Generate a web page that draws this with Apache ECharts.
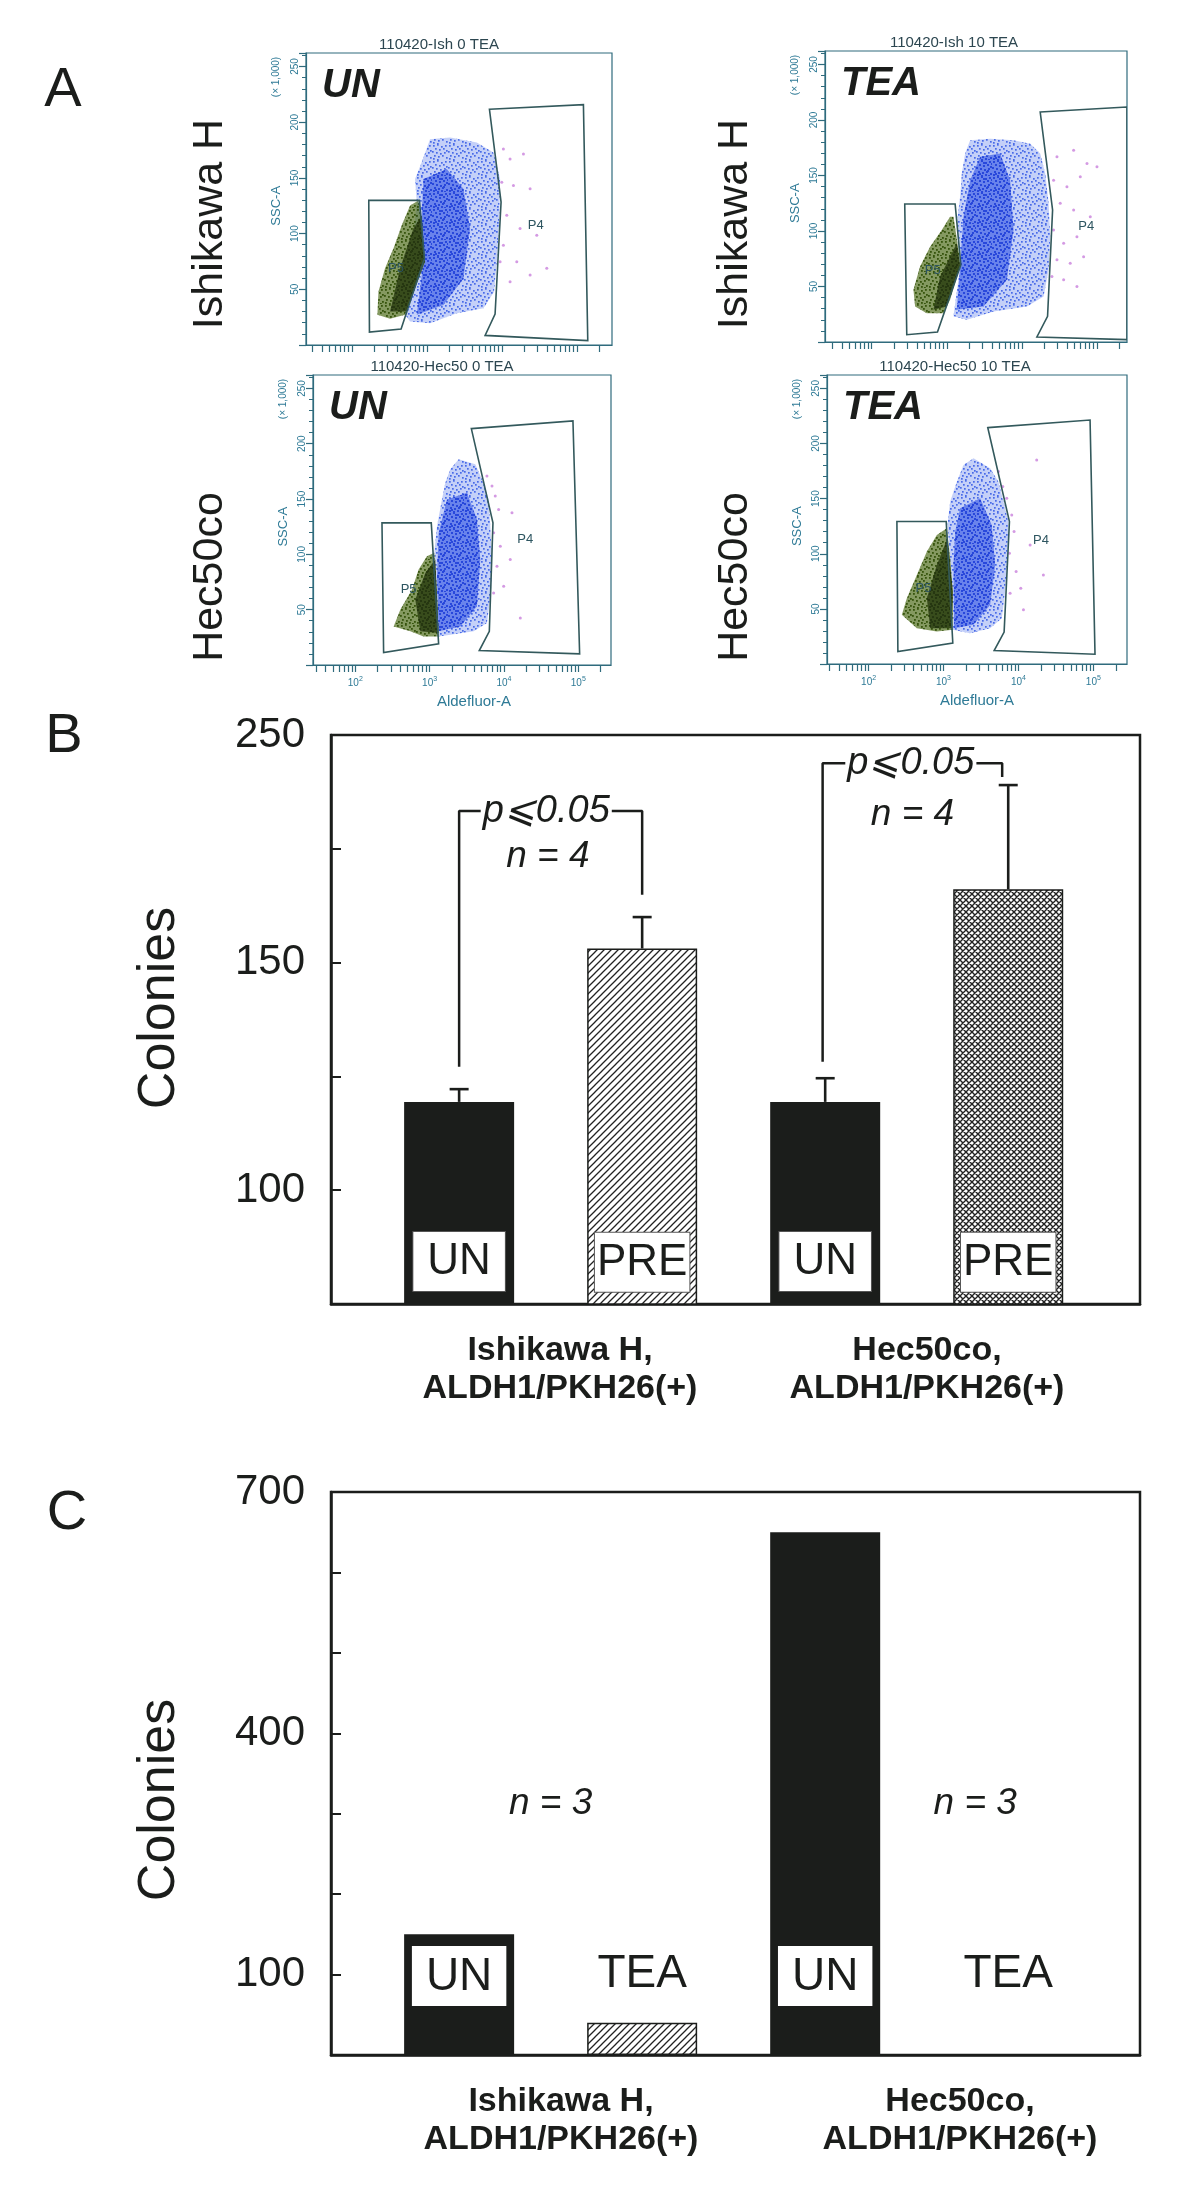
<!DOCTYPE html>
<html lang="en">
<head>
<meta charset="utf-8"/>
<title>ALDH1 colonies</title>
<script src="https://cdn.jsdelivr.net/npm/echarts@6.0.0/dist/echarts.min.js"></script>
<style>
  html, body { margin: 0; padding: 0; background: #fff; }
  #chart { width: 1200px; height: 2206px; }
</style>
</head>
<body>
<div id="chart"></div>
<script type="text/javascript">
  // ---------- panel A : flow cytometry (x = log10 Aldefluor-A, y = SSC-A x1000) ----------
  var facsTitles = ['110420-Ish 0 TEA', '110420-Ish 10 TEA', '110420-Hec50 0 TEA', '110420-Hec50 10 TEA'];
  var facsTags = ['UN', 'TEA', 'UN', 'TEA'];
  var xRangeA = [[1.39, 5.47], [1.378, 5.4], [1.431, 5.44], [1.445, 5.449]];
  var xLabelDecades = [2, 3, 4, 5];
  var yLabelsA = [50, 100, 150, 200, 250];

  var gateP5 = [
    [[2.227, 129.8], [2.902, 129.8], [2.969, 77.7], [2.658, 14.3], [2.236, 11.6]],
    [[2.44, 124.3], [3.111, 124.3], [3.187, 69.5], [2.876, 9.0], [2.467, 6.6]],
    [[2.359, 128.5], [3.022, 128.5], [3.121, 19.2], [2.381, 11.3]],
    [[2.378, 129.2], [3.036, 129.2], [3.124, 18.9], [2.391, 11.3]]
  ];
  var gateP4 = [
    [[3.836, 211.6], [5.089, 215.8], [5.147, 3.9], [3.778, 8.6], [3.911, 27.7], [3.991, 128.3]],
    [[4.244, 207.2], [5.4, 211.7], [5.4, 2.1], [4.2, 4.5], [4.342, 23.1], [4.409, 118.9]],
    [[3.561, 213.7], [4.928, 220.7], [5.018, 10.1], [3.668, 13.1], [3.803, 30.4], [3.852, 128.5]],
    [[3.591, 214.4], [4.956, 221.3], [5.022, 8.9], [3.676, 12.2], [3.809, 28.9], [3.88, 129.2]]
  ];
  var labelP4 = [[4.453, 107.4], [4.858, 103.9], [4.287, 113.4], [4.302, 112.5]];
  var labelP5 = [[2.591, 68.8], [2.813, 64.4], [2.717, 68.1], [2.733, 68.7]];

  var blueOuter = [
    [[3.044, 184.8], [3.311, 186.3], [3.667, 181.8], [3.889, 172.9], [3.978, 149.1], [3.969, 116.4], [3.942, 80.7], [3.898, 47.9], [3.756, 33.0], [3.4, 28.6], [3.044, 19.6], [2.778, 21.1], [2.711, 27.1], [2.867, 128.3], [2.844, 149.1], [2.933, 164.0]],
    [[3.311, 181.7], [3.578, 183.2], [3.889, 181.7], [4.111, 178.7], [4.244, 169.8], [4.311, 151.8], [4.356, 124.9], [4.378, 94.9], [4.356, 65.0], [4.289, 41.0], [4.067, 32.0], [3.622, 27.5], [3.267, 20.1], [3.089, 23.1], [3.178, 68.0], [3.133, 106.9], [3.178, 130.8], [3.2, 151.8], [3.244, 169.8]],
    [[3.278, 176.9], [3.39, 186.0], [3.614, 181.4], [3.704, 167.8], [3.794, 149.7], [3.816, 125.5], [3.839, 95.3], [3.825, 65.1], [3.771, 37.9], [3.592, 30.4], [3.278, 27.3], [3.121, 25.8], [3.099, 65.1], [3.063, 101.4], [3.099, 125.5], [3.166, 149.7], [3.211, 164.8]],
    [[3.267, 180.5], [3.4, 186.6], [3.622, 177.5], [3.733, 165.4], [3.8, 147.3], [3.867, 129.2], [3.853, 95.9], [3.822, 65.7], [3.778, 41.5], [3.622, 32.5], [3.356, 27.9], [3.124, 31.0], [3.124, 65.7], [3.089, 95.9], [3.053, 126.1], [3.089, 147.3], [3.178, 165.4]]
  ];
  var blueCore = [
    [[2.956, 149.1], [3.267, 158.0], [3.489, 140.2], [3.578, 104.5], [3.489, 59.8], [3.222, 36.0], [2.867, 27.1], [2.956, 74.7], [2.933, 116.4]],
    [[3.444, 166.8], [3.711, 169.8], [3.844, 145.8], [3.889, 100.9], [3.8, 56.0], [3.489, 32.0], [3.133, 29.0], [3.178, 68.0], [3.222, 112.9], [3.311, 145.8]],
    [[3.233, 149.7], [3.502, 155.7], [3.637, 131.6], [3.682, 95.3], [3.637, 53.0], [3.413, 34.9], [3.121, 30.4], [3.099, 80.2], [3.121, 119.5]],
    [[3.222, 141.2], [3.489, 150.3], [3.644, 126.1], [3.689, 89.9], [3.622, 53.6], [3.4, 35.5], [3.142, 32.5], [3.133, 89.9], [3.156, 120.1]]
  ];
  var greenOuter = [
    [[2.889, 129.8], [2.956, 92.6], [2.978, 74.7], [2.711, 27.1], [2.511, 23.5], [2.342, 27.1], [2.356, 47.9], [2.444, 68.8], [2.556, 86.6], [2.667, 107.4], [2.778, 125.3]],
    [[3.089, 112.9], [3.169, 76.9], [3.178, 68.0], [3.044, 38.0], [2.956, 26.0], [2.733, 26.0], [2.578, 32.0], [2.556, 47.0], [2.644, 68.0], [2.778, 85.9], [2.933, 100.9], [3.044, 112.9]],
    [[3.063, 101.4], [3.099, 65.1], [3.121, 25.8], [2.919, 25.8], [2.74, 30.4], [2.516, 34.9], [2.605, 50.0], [2.762, 68.1], [2.852, 86.3], [2.964, 98.3]],
    [[3.044, 123.1], [3.089, 95.9], [3.124, 65.7], [3.124, 31.0], [2.911, 29.5], [2.644, 32.5], [2.444, 44.6], [2.511, 59.7], [2.644, 80.8], [2.778, 102.0], [2.911, 117.1]]
  ];
  var greenCore = [
    [[2.933, 116.4], [2.969, 74.7], [2.733, 30.1], [2.511, 30.1], [2.644, 68.8], [2.822, 104.5]],
    [[3.133, 88.9], [3.178, 68.0], [3.0, 32.0], [2.822, 29.0], [2.911, 59.0], [3.044, 76.9]],
    [[3.076, 95.3], [3.121, 28.9], [2.874, 30.4], [2.807, 59.1], [2.942, 83.2]],
    [[3.053, 114.0], [3.124, 65.7], [3.111, 32.5], [2.822, 32.5], [2.778, 59.7], [2.911, 89.9]]
  ];
  var pinkDots = [
    [[4.022, 175.9], [4.111, 167.0], [4.289, 171.4], [4.0, 146.1], [4.156, 143.2], [4.378, 140.2], [4.067, 116.4], [4.244, 104.5], [4.467, 98.5], [4.022, 89.6], [4.2, 74.7], [4.378, 62.8], [4.6, 68.8], [3.978, 74.7], [4.111, 56.8]],
    [[4.467, 166.8], [4.689, 172.8], [4.867, 160.8], [5.0, 157.8], [4.422, 145.8], [4.6, 139.8], [4.778, 148.8], [4.511, 124.9], [4.689, 118.9], [4.911, 112.9], [4.422, 100.9], [4.556, 88.9], [4.733, 94.9], [4.467, 74.0], [4.644, 71.0], [4.822, 76.9], [4.556, 56.0], [4.733, 50.0], [4.4, 59.0]],
    [[3.771, 170.8], [3.839, 161.8], [3.883, 152.7], [3.928, 140.6], [3.861, 119.5], [3.951, 107.4], [3.906, 89.3], [3.996, 71.1], [3.861, 65.1], [4.108, 137.6], [4.22, 42.4], [4.085, 95.3]],
    [[3.733, 174.5], [3.791, 160.9], [3.844, 150.3], [3.911, 135.2], [3.942, 120.1], [3.88, 100.5], [3.969, 83.8], [3.889, 64.2], [4.031, 68.7], [4.156, 108.0], [4.244, 185.0], [4.333, 80.8], [4.067, 49.1]]
  ];

  // ---------- panel B ----------
  var barPos = [1, 2, 3, 4];
  var barNamesB = ['UN', 'PRE', 'UN', 'PRE'];
  var coloniesB = [119.4, 153.1, 119.4, 166.1];
  var errTopB = [122.2, 160.0, 124.6, 189.0];
  var yTicksB = [100, 150, 200];
  var yTickTextB = ['100', '150', '250'];
  var bracketIsh = [[1.0, 127.1], [1.0, 183.3], [2.0, 183.3], [2.0, 164.9]];
  var bracketHec = [[2.986, 128.2], [2.986, 193.8], [3.967, 193.8], [3.967, 190.8]];
  var pTextB = [[1.476, 183.3], [3.468, 193.8]];
  var nTextB = [[1.485, 173.3], [3.477, 182.4]];

  // ---------- panel C ----------
  var barNamesC = ['UN', 'TEA', 'UN', 'TEA'];
  var coloniesC = [150, 40, 650, 0];
  var yTicksC = [100, 400, 700];
  var teaTextC = [[2, 100], [4, 100]];
  var nTextC = [[1.5, 312], [3.82, 312]];

  var groupNames = ['Ishikawa H,\nALDH1/PKH26(+)', 'Hec50co,\nALDH1/PKH26(+)'];

  // ---------- styles ----------
  var FONT = 'Liberation Sans, Arial, Helvetica, sans-serif';
  var INK = '#1b1d1b';
  var FACS_AXIS = '#2f6b7d';
  var FACS_TEXT = '#2e7a96';
  var GATE = '#33595c';

  function hatch(cross) {
    var s = cross ? 6 : 7;
    var c = document.createElement('canvas');
    c.width = s; c.height = s;
    var g = c.getContext('2d');
    g.fillStyle = '#fff';
    g.fillRect(0, 0, s, s);
    g.strokeStyle = '#222';
    g.lineWidth = cross ? 1.4 : 1.3;
    g.beginPath();
    g.moveTo(-1, s + 1); g.lineTo(s + 1, -1);
    g.moveTo(-1, 1); g.lineTo(1, -1);
    g.moveTo(s - 1, s + 1); g.lineTo(s + 1, s - 1);
    if (cross) {
      g.moveTo(-1, -1); g.lineTo(s + 1, s + 1);
      g.moveTo(s - 1, -1); g.lineTo(s + 1, 1);
      g.moveTo(-1, s - 1); g.lineTo(1, s + 1);
    }
    g.stroke();
    return { image: c, repeat: 'repeat' };
  }
  var HATCH = hatch(false);
  var CROSS = hatch(true);

  // speckle tiles for the cytometry clouds (fixed dot layout)
  var speckle = [[1, 1], [5, 0], [9, 2], [13, 1], [3, 4], [7, 5], [11, 4], [14, 6], [0, 7], [4, 8], [8, 9], [12, 8],
    [2, 11], [6, 12], [10, 11], [14, 13], [1, 14], [5, 15], [9, 14], [12, 15], [7, 2], [3, 13], [11, 10], [15, 3]];
  function dots(base, dot, count, size) {
    var c = document.createElement('canvas');
    c.width = 16; c.height = 16;
    var g = c.getContext('2d');
    if (base) { g.fillStyle = base; g.fillRect(0, 0, 16, 16); }
    g.fillStyle = dot;
    speckle.slice(0, count).forEach(function (p) { g.fillRect(p[0], p[1], size, size); });
    return { image: c, repeat: 'repeat' };
  }
  var BLUE_OUT = dots('rgba(125,150,240,0.45)', 'rgba(60,95,230,0.9)', 18, 1.7);
  var BLUE_CORE = dots('rgba(75,105,232,0.75)', 'rgba(38,70,218,0.95)', 24, 2);
  var GREEN_OUT = dots('rgba(80,110,28,0.7)', 'rgba(55,85,14,1)', 20, 1.8);
  var GREEN_CORE = dots('rgba(52,72,24,0.95)', 'rgba(38,55,17,1)', 24, 2);

  var facsGrids = [
    { left: 306, top: 53, width: 306, height: 292 },
    { left: 825, top: 51, width: 302, height: 291 },
    { left: 313, top: 375, width: 298, height: 290 },
    { left: 827, top: 375, width: 300, height: 289 }
  ];

  var grids = [], xAxes = [], yAxes = [], series = [], graphics = [];

  facsGrids.forEach(function (g, i) {
    grids.push({ left: g.left, top: g.top, width: g.width, height: g.height, show: true,
      borderColor: FACS_AXIS, borderWidth: 1.2, backgroundColor: 'transparent' });

    var ticks = [];
    for (var d = 1; d <= 5; d++) {
      for (var k = 1; k <= 9; k++) {
        var t = d + Math.log10(k);
        if (t > xRangeA[i][0] && t < xRangeA[i][1]) ticks.push(t);
      }
    }
    xAxes.push({
      gridIndex: i, type: 'value', min: xRangeA[i][0], max: xRangeA[i][1],
      axisLine: { show: true, lineStyle: { color: FACS_AXIS, width: 1.2 } },
      axisTick: { show: true, customValues: ticks, length: 7, lineStyle: { color: FACS_AXIS, width: 1.2 } },
      axisLabel: {
        show: i >= 2, customValues: xLabelDecades, margin: 11,
        formatter: function (v) { return '{b|10}{s|' + v + '}'; },
        rich: {
          b: { fontSize: 10, fontFamily: FONT, color: FACS_TEXT },
          s: { fontSize: 7, fontFamily: FONT, color: FACS_TEXT, padding: [0, 0, 7, 0] }
        }
      },
      splitLine: { show: false }
    });
    yAxes.push({
      gridIndex: i, type: 'value', min: 0, max: 262.144, interval: 50,
      axisLine: { show: true, lineStyle: { color: FACS_AXIS, width: 1.2 } },
      axisTick: { show: true, length: 7, lineStyle: { color: FACS_AXIS, width: 1.2 } },
      minorTick: { show: true, splitNumber: 5, length: 4, lineStyle: { color: FACS_AXIS, width: 1 } },
      axisLabel: { customValues: yLabelsA, rotate: 90, fontSize: 10, color: FACS_TEXT, fontFamily: FONT, margin: 6 },
      splitLine: { show: false }, minorSplitLine: { show: false }
    });

    function poly(pts, style, z) {
      series.push({
        type: 'custom', xAxisIndex: i, yAxisIndex: i, z: z, silent: true, clip: true,
        data: pts,
        renderItem: function (params, api) {
          if (params.dataIndex !== 0) return null;
          var points = pts.map(function (p) { return api.coord(p); });
          return { type: 'polygon', shape: { points: points }, style: style };
        }
      });
    }
    poly(blueOuter[i], { fill: BLUE_OUT }, 2);
    poly(blueCore[i], { fill: BLUE_CORE }, 3);
    poly(greenOuter[i], { fill: GREEN_OUT }, 4);
    poly(greenCore[i], { fill: GREEN_CORE }, 5);
    series.push({
      type: 'scatter', xAxisIndex: i, yAxisIndex: i, z: 6, silent: true,
      symbolSize: 3, itemStyle: { color: '#cf8fe0', opacity: 0.9 }, data: pinkDots[i]
    });
    poly(gateP5[i], { fill: 'none', stroke: GATE, lineWidth: 1.6 }, 7);
    poly(gateP4[i], { fill: 'none', stroke: GATE, lineWidth: 1.6 }, 7);
    series.push({
      type: 'scatter', xAxisIndex: i, yAxisIndex: i, z: 8, silent: true, symbolSize: 0,
      itemStyle: { opacity: 1 },
      data: [{ name: 'P4', value: labelP4[i] }, { name: 'P5', value: labelP5[i] }],
      label: { show: true, position: 'inside', formatter: '{b}', fontSize: 13, color: '#2d5560', fontFamily: FONT }
    });

    graphics.push({ type: 'text', x: g.left + g.width / 2 + (i % 2 ? -22 : -20), y: g.top - 8,
      style: { text: facsTitles[i], font: '15px ' + FONT, fill: '#2c4650', align: 'center', verticalAlign: 'middle' } });
    graphics.push({ type: 'text', x: g.left + 16, y: g.top + 33,
      style: { text: facsTags[i], font: 'italic bold 40px ' + FONT, fill: INK, align: 'left', verticalAlign: 'middle' } });
    graphics.push({ type: 'text', x: g.left - 30, y: g.top + 24, rotation: Math.PI / 2,
      style: { text: '(\u00d7 1,000)', font: '10px ' + FONT, fill: FACS_TEXT, align: 'center', verticalAlign: 'middle' } });
    graphics.push({ type: 'text', x: g.left - 30, y: g.top + g.height - 125 * g.height / 262.144, rotation: Math.PI / 2,
      style: { text: 'SSC-A', font: '13px ' + FONT, fill: FACS_TEXT, align: 'center', verticalAlign: 'middle' } });
    if (i >= 2) {
      graphics.push({ type: 'text', x: g.left + g.width / 2 + (i === 2 ? 12 : 0), y: g.top + g.height + 37,
        style: { text: 'Aldefluor-A', font: '15px ' + FONT, fill: FACS_TEXT, align: 'center', verticalAlign: 'middle' } });
    }
  });

  // ---------- panels B and C ----------
  var barGrids = [
    { left: 331, top: 735, width: 809, height: 569 },
    { left: 331, top: 1492, width: 809, height: 563 }
  ];
  barGrids.forEach(function (g) {
    grids.push({ left: g.left, top: g.top, width: g.width, height: g.height, show: true,
      borderColor: INK, borderWidth: 2.5, backgroundColor: 'transparent' });
    xAxes.push({
      gridIndex: grids.length - 1, type: 'value', min: 0.3, max: 4.72,
      axisLine: { show: true, onZero: false, lineStyle: { color: INK, width: 2.5 } },
      axisTick: { show: false }, axisLabel: { show: false }, splitLine: { show: false }
    });
  });
  yAxes.push({
    gridIndex: 4, type: 'value', min: 75, max: 200, interval: 25,
    axisLine: { show: true, lineStyle: { color: INK, width: 2.5 } },
    axisTick: { show: true, inside: true, length: 10, lineStyle: { color: INK, width: 2 } },
    axisLabel: {
      customValues: yTicksB, fontSize: 42, color: INK, fontFamily: FONT, margin: 26,
      formatter: function (v) { return yTickTextB[yTicksB.indexOf(v)]; }
    },
    splitLine: { show: false }
  });
  yAxes.push({
    gridIndex: 5, type: 'value', min: 0, max: 700, interval: 100,
    axisLine: { show: true, lineStyle: { color: INK, width: 2.5 } },
    axisTick: { show: true, inside: true, length: 10, lineStyle: { color: INK, width: 2 } },
    axisLabel: { customValues: yTicksC, fontSize: 42, color: INK, fontFamily: FONT, margin: 26 },
    splitLine: { show: false }
  });

  var boxLabel = {
    show: true, position: 'insideBottom', fontSize: 44, color: INK, fontFamily: FONT,
    backgroundColor: '#fff', borderColor: '#555', borderWidth: 1, lineHeight: 50
  };
  var plainText = { show: true, position: 'inside', color: INK, fontFamily: FONT, opacity: 1 };

  series.push({
    type: 'bar', xAxisIndex: 4, yAxisIndex: 4, barWidth: 110, z: 2,
    data: barPos.map(function (x, i) {
      var un = barNamesB[i] === 'UN';
      return {
        value: [x, coloniesB[i]],
        itemStyle: { color: un ? INK : (i === 1 ? HATCH : CROSS), borderColor: INK, borderWidth: un ? 0 : 1.5 },
        label: Object.assign({}, boxLabel, { formatter: barNamesB[i], distance: 13, padding: un ? [5, 14, 4, 14] : [5, 2, 4, 2] })
      };
    })
  });
  series.push({
    type: 'custom', xAxisIndex: 4, yAxisIndex: 4, z: 3, silent: true,
    data: barPos.map(function (x, i) { return [x, coloniesB[i], errTopB[i]]; }),
    renderItem: function (params, api) {
      var a = api.coord([api.value(0), api.value(1)]);
      var b = api.coord([api.value(0), api.value(2)]);
      var ls = { stroke: INK, lineWidth: 2.6 };
      return { type: 'group', children: [
        { type: 'line', shape: { x1: a[0], y1: a[1], x2: b[0], y2: b[1] }, style: ls },
        { type: 'line', shape: { x1: b[0] - 9.5, y1: b[1], x2: b[0] + 9.5, y2: b[1] }, style: ls }
      ] };
    }
  });
  [bracketIsh, bracketHec].forEach(function (br) {
    series.push({
      type: 'line', xAxisIndex: 4, yAxisIndex: 4, z: 3, silent: true, symbol: 'none',
      lineStyle: { color: INK, width: 2.5 }, data: br
    });
  });
  series.push({
    type: 'scatter', xAxisIndex: 4, yAxisIndex: 4, z: 5, silent: true, symbolSize: 0,
    itemStyle: { opacity: 1 }, data: pTextB,
    label: Object.assign({}, plainText, { formatter: 'p\u2a7d0.05', fontSize: 38, fontStyle: 'italic',
      backgroundColor: '#fff', padding: [0, 2] })
  });
  series.push({
    type: 'scatter', xAxisIndex: 4, yAxisIndex: 4, z: 5, silent: true, symbolSize: 0,
    itemStyle: { opacity: 1 }, data: nTextB,
    label: Object.assign({}, plainText, { formatter: 'n = 4', fontSize: 37, fontStyle: 'italic' })
  });

  series.push({
    type: 'bar', xAxisIndex: 5, yAxisIndex: 5, barWidth: 110, z: 2,
    data: barPos.map(function (x, i) {
      var un = barNamesC[i] === 'UN';
      return {
        value: [x, coloniesC[i]],
        itemStyle: { color: un ? INK : HATCH, borderColor: INK, borderWidth: un || coloniesC[i] === 0 ? 0 : 1.5 },
        label: un ? Object.assign({}, boxLabel, { formatter: barNamesC[i], distance: 49, fontSize: 46, padding: [6, 14, 4, 14], borderWidth: 0 }) : { show: false }
      };
    })
  });
  series.push({
    type: 'scatter', xAxisIndex: 5, yAxisIndex: 5, z: 5, silent: true, symbolSize: 0,
    itemStyle: { opacity: 1 }, data: teaTextC,
    label: Object.assign({}, plainText, { formatter: 'TEA', fontSize: 46 })
  });
  series.push({
    type: 'scatter', xAxisIndex: 5, yAxisIndex: 5, z: 5, silent: true, symbolSize: 0,
    itemStyle: { opacity: 1 }, data: nTextC,
    label: Object.assign({}, plainText, { formatter: 'n = 3', fontSize: 37, fontStyle: 'italic' })
  });

  // ---------- free text ----------
  function txt(x, y, text, font, rot, extra) {
    var e = { type: 'text', x: x, y: y, rotation: rot || 0,
      style: Object.assign({ text: text, font: font, fill: INK, align: 'center', verticalAlign: 'middle' }, extra || {}) };
    graphics.push(e);
  }
  txt(63, 91, 'A', '56px ' + FONT);
  txt(64, 737, 'B', '56px ' + FONT);
  txt(67, 1514, 'C', '56px ' + FONT);
  txt(210, 224, 'Ishikawa H', '43px ' + FONT, Math.PI / 2);
  txt(735, 224, 'Ishikawa H', '43px ' + FONT, Math.PI / 2);
  txt(210, 577, 'Hec50co', '43px ' + FONT, Math.PI / 2);
  txt(735, 577, 'Hec50co', '43px ' + FONT, Math.PI / 2);
  txt(160, 1008, 'Colonies', '52px ' + FONT, Math.PI / 2);
  txt(160, 1800, 'Colonies', '52px ' + FONT, Math.PI / 2);
  txt(560, 1370, groupNames[0], 'bold 34px ' + FONT, 0, { lineHeight: 38 });
  txt(927, 1370, groupNames[1], 'bold 34px ' + FONT, 0, { lineHeight: 38 });
  txt(561, 2121, groupNames[0], 'bold 34px ' + FONT, 0, { lineHeight: 38 });
  txt(960, 2121, groupNames[1], 'bold 34px ' + FONT, 0, { lineHeight: 38 });

  var chart = echarts.init(document.getElementById('chart'));
  chart.setOption({
    animation: false,
    backgroundColor: '#fff',
    grid: grids,
    xAxis: xAxes,
    yAxis: yAxes,
    series: series,
    graphic: { elements: graphics }
  });
</script>
</body>
</html>
